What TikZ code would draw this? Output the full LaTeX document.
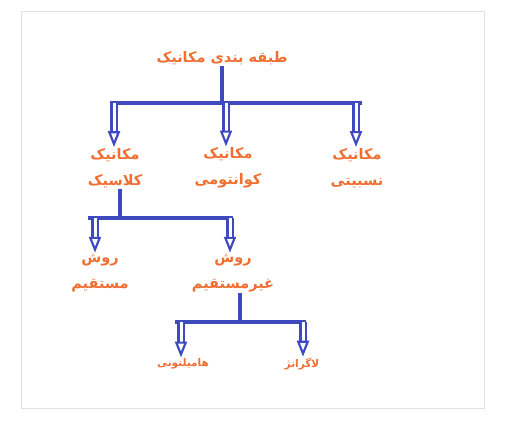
\documentclass[tikz,border=0pt]{standalone}
\usepackage{fontspec}
\newfontfamily\arabicfont[Script=Arabic]{DejaVu Sans}
\TeXXeTstate=1
\usetikzlibrary{arrows.meta}
\definecolor{barblue}{RGB}{62,74,190}
\definecolor{lblorange}{RGB}{240,110,50}
\begin{document}
\begin{tikzpicture}[x=1pt,y=-1pt,
    lbl/.style={text=lblorange,font=\arabicfont\bfseries\fontsize{14.5}{26}\selectfont,align=center,inner sep=1pt},
    smalllbl/.style={lbl,font=\arabicfont\bfseries\fontsize{10.5}{12}\selectfont},
    bar/.style={draw=barblue,line width=3.2pt},
    down/.style={draw=barblue,line width=2.2pt,double=white,double distance=3pt,
        -{Triangle[open,length=16pt,width=12pt,line width=2.2pt]}}]
        \useasboundingbox (0,0) rectangle (509,424);
        \draw[black!12,line width=0.8pt] (21,11) rectangle (484,408);
        % labels
        \node[lbl] (mech) at (222,58) {\beginR طبقه بندی مکانیک\endR};
        \node[lbl] (classic) at (115,168) {\beginR مکانیک\endR\\\beginR کلاسیک\endR};
        \node[lbl] (quantum) at (228,168) {\beginR مکانیک\endR\\\beginR کوانتومی\endR};
        \node[lbl] (relat) at (357,168) {\beginR مکانیک\endR\\\beginR نسبیتی\endR};
        \node[lbl] (direct) at (100,273) {\beginR روش\endR\\\beginR مستقیم\endR};
        \node[lbl] (indirect) at (233,273) {\beginR روش\endR\\\beginR غیرمستقیم\endR};
        \node[smalllbl] (hamilton) at (183,364) {\beginR هامیلتونی\endR};
        \node[smalllbl] (lagrange) at (302,364) {\beginR لاگرانژ\endR};
        % first level
        \coordinate (j1) at (222,103);
        \coordinate (l1) at (110,103);
        \coordinate (r1) at (362,103);
        \coordinate (a1) at (114,103);
        \coordinate (a2) at (226,103);
        \coordinate (a3) at (356,103);
        \draw[bar] (mech.south -| j1) -- (j1);
        \draw[bar] (l1) -- (r1);
        \foreach \c/\n in {a1/classic,a2/quantum,a3/relat} {
            \draw[down] (\c) -- (\c |- \n.north);
        };
        % second level
        \coordinate (j2) at (120,218);
        \coordinate (l2) at (88,218);
        \coordinate (r2) at (233,218);
        \coordinate (b1) at (95,218);
        \coordinate (b2) at (230,218);
        \draw[bar] (j2 |- classic.south) -- (j2);
        \draw[bar] (l2) -- (r2);
        \foreach \c/\n in {b1/direct,b2/indirect} {
            \draw[down] (\c) -- (\c |- \n.north);
        };
        % third level
        \coordinate (j3) at (240,322);
        \coordinate (l3) at (175,322);
        \coordinate (r3) at (306,322);
        \coordinate (c1) at (181,322);
        \coordinate (c2) at (303,322);
        \draw[bar] (j3 |- indirect.south) -- (j3);
        \draw[bar] (l3) -- (r3);
        \foreach \c/\n in {c1/hamilton,c2/lagrange} {
            \draw[down] (\c) -- (\c |- \n.north);
        };
\end{tikzpicture}
\end{document}
